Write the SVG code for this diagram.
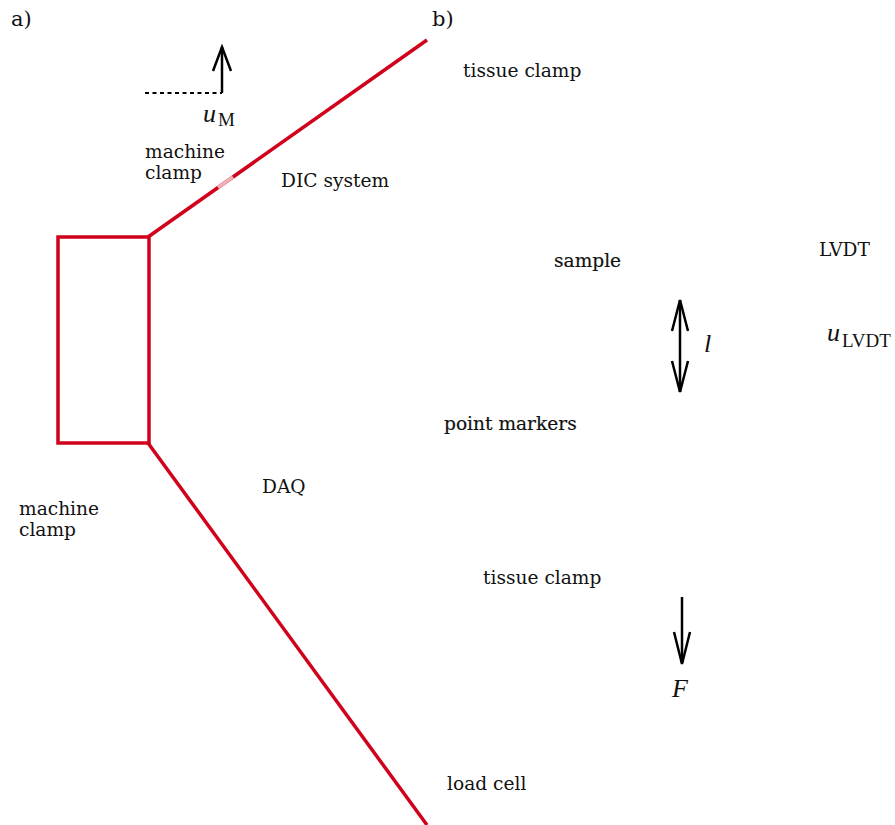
<svg xmlns="http://www.w3.org/2000/svg" width="895" height="825" viewBox="0 0 895 825">
<style>
.lbl{font-family:"DejaVu Serif",serif;font-size:18.6px;fill:#111}
.bold{stroke:#111;stroke-width:0.2}
.panel{font-family:"DejaVu Serif",serif;font-size:21px;fill:#111}
.math{font-family:"Liberation Serif",serif;font-style:italic;font-size:26px;fill:#111}
.sub{font-family:"Liberation Serif",serif;font-size:19px;fill:#111}
.red{stroke:#d0021b;stroke-width:3.5;fill:none}
.arr{stroke:#000;stroke-width:2.5;fill:none}
</style>
<rect width="895" height="825" fill="#fff"/>
<g id="panel-labels">
<text class="panel" x="11" y="26">a)</text>
<text class="panel" x="432" y="26">b)</text>
</g>
<g id="connectors">
<line class="red" x1="148" y1="237" x2="427" y2="40"/>
<line x1="218" y1="187.5" x2="233" y2="177" stroke="#eeb0b8" stroke-width="3.5"/>
<line class="red" x1="148" y1="443" x2="427" y2="825"/>
</g>
<g id="machine-clamp-box">
<rect class="red" x="58" y="237" width="91" height="206"/>
</g>
<g id="uM-arrow">
<line x1="145" y1="93" x2="222" y2="93" stroke="#000" stroke-width="2" stroke-dasharray="4,3.5"/>
<polyline class="arr" points="222,93 222,47"/>
<polyline class="arr" points="213,71 222,47 231,71"/>
<text class="math" x="203" y="122">u</text>
<text class="sub" x="218" y="126">M</text>
</g>
<g id="l-arrow">
<line class="arr" x1="680" y1="300" x2="680" y2="392"/>
<polyline class="arr" points="672,331 680,300 688,331"/>
<polyline class="arr" points="672,361 680,392 688,361"/>
<text class="math" x="704" y="352">l</text>
</g>
<g id="F-arrow">
<line class="arr" x1="682" y1="597" x2="682" y2="663"/>
<polyline class="arr" points="674,632 682,664 690,632"/>
<text class="math" x="672" y="697">F</text>
</g>
<g id="uLVDT">
<text class="math" x="827" y="341">u</text>
<text class="sub" x="842" y="347">LVDT</text>
</g>
<g id="labels">
<text class="lbl" x="145" y="158">machine</text>
<text class="lbl" x="145" y="179">clamp</text>
<text class="lbl" x="281" y="187">DIC system</text>
<text class="lbl" x="463" y="77">tissue clamp</text>
<text class="lbl bold" x="554" y="267">sample</text>
<text class="lbl" x="819" y="256">LVDT</text>
<text class="lbl bold" x="444" y="430">point markers</text>
<text class="lbl" x="19" y="515">machine</text>
<text class="lbl" x="19" y="536">clamp</text>
<text class="lbl" x="262" y="493">DAQ</text>
<text class="lbl" x="483" y="584">tissue clamp</text>
<text class="lbl" x="447" y="790">load cell</text>
</g>
</svg>
